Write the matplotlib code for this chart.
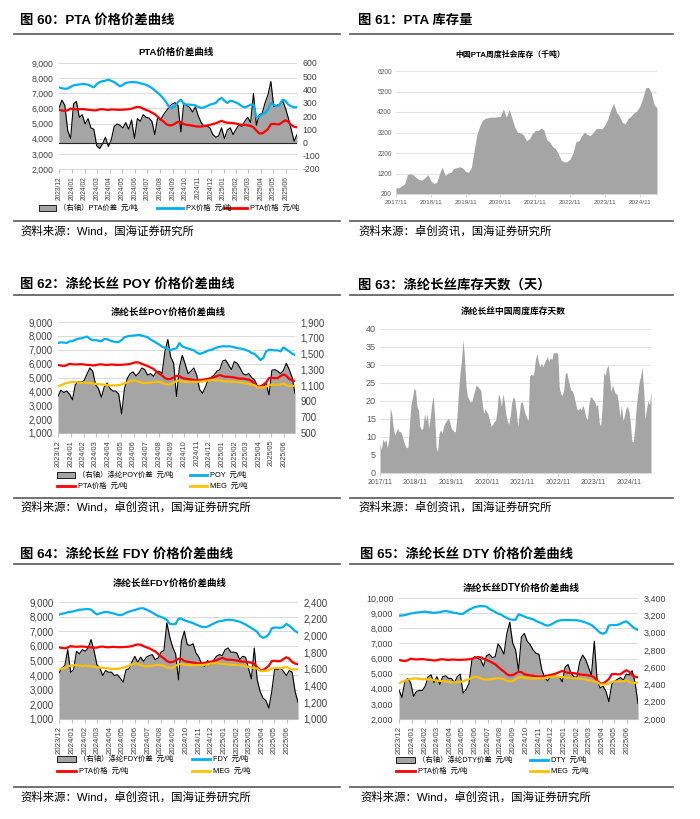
import numpy as np
import pandas as pd
import matplotlib
matplotlib.use("Agg")
import matplotlib.pyplot as plt
from matplotlib.lines import Line2D
from matplotlib.patches import Rectangle
from matplotlib.ticker import FuncFormatter

plt.rcParams["font.family"] = ["Liberation Sans", "Noto Sans CJK SC", "DejaVu Sans"]

# ---------- data: weekly prices, 2023/12 .. 2025/06 ----------
weeks = pd.date_range("2023-12-01", periods=83, freq="7D")
month_ticks = pd.date_range("2023-12-01", "2025-06-01", freq="MS")

px_price = [7390, 7330, 7300, 7310, 7420, 7520, 7560, 7580, 7610, 7600,
            7570, 7480, 7390, 7600, 7740, 7800, 7830, 7900, 7820, 7740,
            7600, 7460, 7560, 7680, 7720, 7740, 7730, 7720, 7660, 7610,
            7560, 7460, 7350, 7190, 7030, 6860, 6640, 6400, 6070, 6030,
            6140, 6420, 6580, 6290, 6260, 6250, 6230, 6200, 6100, 6030,
            6070, 6150, 6250, 6300, 6360, 6580, 6690, 6510, 6360, 6510,
            6470, 6390, 6290, 6140, 6070, 6140, 6250, 6250, 5410, 5450,
            5630, 5700, 5920, 6360, 6250, 6140, 6250, 6580, 6510, 6250,
            6140, 6070, 6090]
pta_spread = [260, 320, 280, 90, 30, 290, 310, 190, 210, 140,
              180, 110, 100, -25, -45, -10, 40, -30, 20, 120,
              140, 130, 110, 150, 100, 170, 30, 180, 160, 210,
              190, 185, 160, 60, 190, 170, 210, 240, 270, 290,
              300, 280, 80, 300, 280, 265, 230, 270, 200, 150,
              120, 125, 110, 60, 40, 50, 110, 30, 95, 110,
              60, 100, 135, 120, 160, 190, 150, 370, 130, 210,
              220, 300, 360, 460, 270, 280, 290, 320, 260, 185,
              100, 10, 60]
pta_price = [5900, 5860, 5830, 5880, 5990, 5950, 5940, 5950, 5960, 5940,
             5910, 5900, 5870, 5880, 5940, 5950, 5920, 5900, 5930, 5930,
             5910, 5910, 5920, 5930, 5950, 5980, 6050, 6100, 6080, 5980,
             5900, 5830, 5720, 5620, 5450, 5280, 5140, 4960, 4880, 4900,
             5000, 5120, 5100, 4960, 4920, 4890, 4860, 4820, 4800, 4800,
             4840, 4870, 4920, 4960, 5020, 5100, 5180, 5100, 5050, 5050,
             5030, 5000, 4950, 4920, 4920, 4880, 4850, 4750, 4540, 4350,
             4350, 4480, 4640, 4960, 4980, 4950, 4960, 5100, 5220, 5120,
             4900, 4790, 4750]
meg_price = [4370, 4440, 4520, 4610, 4640, 4680, 4680, 4650, 4620, 4640,
             4620, 4610, 4570, 4540, 4510, 4500, 4480, 4460, 4420, 4430,
             4430, 4460, 4500, 4570, 4640, 4730, 4800, 4770, 4690, 4620,
             4600, 4620, 4640, 4670, 4700, 4670, 4640, 4530, 4500, 4500,
             4640, 4740, 4780, 4710, 4690, 4670, 4680, 4690, 4690, 4690,
             4710, 4760, 4780, 4820, 4820, 4790, 4780, 4750, 4730, 4710,
             4700, 4690, 4670, 4650, 4610, 4560, 4540, 4480, 4450, 4280,
             4290, 4290, 4340, 4450, 4490, 4480, 4490, 4500, 4570, 4450,
             4390, 4390, 4410]
poy_price = [7490, 7530, 7520, 7490, 7600, 7620, 7720, 7800, 7820, 7880,
             7950, 7800, 7680, 7700, 7650, 7610, 7780, 7760, 7660, 7600,
             7560, 7560, 7700, 7900, 7960, 8000, 8020, 8040, 8080, 8020,
             7960, 7900, 7750, 7620, 7500, 7380, 7230, 7130, 7060, 6980,
             7050, 7100, 7480, 7240, 7150, 7090, 7020, 6960, 6800, 6700,
             6760, 6850, 6950, 6980, 7080, 7170, 7220, 7250, 7240, 7250,
             7230, 7180, 7120, 7090, 7060, 6980, 6900, 6770, 6700, 6500,
             6260, 6400, 6880, 7000, 6990, 6950, 6960, 6880, 7170, 7020,
             6880, 6720, 6620]
poy_spread = [962, 1040, 1010, 1030, 990, 920, 1110, 1150, 1140, 1160,
              1240, 1320, 1280, 1110, 1060, 950, 1080, 1130, 1060, 1030,
              1030, 990, 740, 1060, 1190, 1250, 1270, 1220, 1260, 1320,
              1300, 1230, 1250, 1215, 1270, 1280, 1250, 1530, 1680, 1460,
              1380, 960, 1330, 1480, 1370, 1250, 1280, 1320, 1230, 1050,
              1000, 1080, 1180, 1200, 1230, 1280, 1300, 1410, 1420, 1360,
              1300, 1400, 1380, 1320, 1250, 1230, 1250, 1200, 1170, 1090,
              1080, 1080, 1130, 980, 1290, 1300, 1280, 1250, 1290, 1380,
              1300, 1200, 1000]
fdy_price = [8130, 8200, 8230, 8300, 8320, 8360, 8420, 8470, 8480, 8510,
             8520, 8480, 8300, 8150, 8220, 8280, 8320, 8300, 8240, 8200,
             8140, 8100, 8150, 8260, 8340, 8400, 8450, 8520, 8570, 8570,
             8480, 8380, 8280, 8150, 8050, 7980, 7900, 7780, 7500, 7480,
             7490, 7850, 7860, 7750, 7680, 7620, 7560, 7460, 7380, 7300,
             7280, 7320, 7420, 7520, 7620, 7690, 7710, 7760, 7790, 7780,
             7750, 7700, 7650, 7560, 7460, 7340, 7220, 7100, 6950, 6680,
             6550, 6620, 6800, 7200, 7250, 7250, 7230, 7300, 7500, 7380,
             7200, 7020, 6900]
fdy_spread = [1550, 1610, 1640, 1830, 1560, 1590, 1810, 1780, 1830, 1810,
              1850, 1950, 1820, 1650, 1610, 1520, 1580, 1560, 1560, 1520,
              1530, 1490, 1440, 1590, 1600, 1680, 1750, 1680, 1740, 1690,
              1740, 1760, 1770, 1710, 1730, 1800, 1820, 2150, 1980, 1860,
              1780, 1470, 1930, 2050, 1890, 1880, 1900, 1790, 1740, 1650,
              1630, 1700, 1650, 1700, 1750, 1770, 1760, 1830, 1850, 1800,
              1800, 1790, 1710, 1750, 1740, 1610, 1480, 1850, 1470, 1330,
              1250, 1220, 1130, 1330, 1600, 1590, 1610, 1570, 1520, 1580,
              1560, 1330, 1200]
dty_price = [8830, 8840, 8870, 8920, 8980, 9000, 9040, 9060, 9080, 9100,
             9060, 9040, 9020, 9040, 9060, 9110, 9140, 9100, 9060, 9020,
             8990, 8940, 8960, 9100, 9220, 9310, 9400, 9440, 9460, 9460,
             9430, 9280, 9180, 9080, 8960, 8900, 8780, 8680, 8590, 8560,
             8560, 8920, 8860, 8780, 8700, 8640, 8600, 8480, 8400, 8320,
             8220, 8170, 8230, 8340, 8450, 8510, 8540, 8540, 8540, 8540,
             8530, 8530, 8490, 8440, 8380, 8300, 8220, 8060, 7880, 7700,
             7640, 7730, 8180, 8210, 8210, 8220, 8300, 8400, 8460, 8300,
             8120, 7980, 7880]
dty_spread = [2335, 2250, 2430, 2470, 2420, 2260, 2320, 2330, 2330, 2380,
              2490, 2510, 2420, 2490, 2400, 2490, 2500, 2470, 2470, 2420,
              2490, 2520, 2300, 2340, 2410, 2680, 2720, 2700, 2690, 2610,
              2730, 2750, 2710, 2720, 2870, 2820, 2750, 2990, 3120, 2880,
              2800, 2560, 2950, 2990, 2900, 2860, 2800, 2760, 2750, 2570,
              2480, 2440, 2500, 2510, 2490, 2490, 2430, 2600, 2630, 2530,
              2490, 2480, 2660, 2740, 2690, 2600, 2500, 2900, 2440, 2360,
              2380, 2320, 2200, 2400, 2440, 2460, 2480, 2450, 2520, 2510,
              2560, 2420, 2180]

# ---------- data: inventories, 2017/11 .. 2025 ----------
year_ticks = pd.to_datetime([f"{y}-11-01" for y in range(2017, 2025)])
stock_dates = pd.date_range("2017-11-01", periods=91, freq="MS")
pta_stock = [510, 500, 606, 700, 1150, 1180, 1130, 1000, 900, 880,
             1000, 1140, 850, 720, 760, 1200, 1500, 1100, 1220, 1260,
             1450, 1480, 1530, 1470, 1300, 1260, 1500, 2400, 3150, 3560,
             3820, 3900, 3930, 3950, 3950, 3970, 3980, 4350, 3950, 4320,
             3900, 3450, 3200, 3180, 3080, 2800, 2900, 3150, 3290, 3300,
             3420, 3300, 2850, 2740, 2520, 2420, 2150, 1850, 1760, 1780,
             1900, 2200, 2740, 2800, 3030, 3220, 3100, 3050, 3200, 3380,
             3400, 3380, 3560, 3850, 4300, 4620, 4200, 4000, 3700, 3620,
             3890, 3990, 4150, 4250, 4480, 4850, 5380, 5400, 5150, 4560,
             4400]
days_dates = pd.date_range("2017-11-01", periods=184, freq="SMS")
yarn_days = [8.2, 6.5, 9.5, 8.5, 9.2, 7, 9.5, 18, 16.5, 13,
             10.5, 11.5, 12.5, 11.5, 11.5, 10.5, 9, 7.8, 7, 7.2,
             14, 19, 21, 23.5, 23, 18.5, 17.5, 13, 12, 12.5,
             16.5, 14.5, 16.5, 12.5, 15.5, 19, 21.5, 16, 7, 5.9,
             11, 12, 11, 13, 14, 14.5, 15.2, 14.5, 12.5, 12,
             11.5, 11.5, 16, 22, 28, 31, 37, 33, 24.5, 21.5,
             20.5, 19.8, 19.8, 21.5, 23, 24.4, 24, 23.5, 23, 19.5,
             16.5, 17.8, 17, 16.3, 14.5, 13, 13.5, 14.3, 14.6, 17.5,
             22, 21, 18.5, 22, 19.8, 16.5, 14.5, 13.5, 16, 19.5,
             21.2, 20.5, 17, 12.9, 16.5, 19.5, 19.8, 18, 16.5, 15.5,
             14.5, 27, 27.5, 27, 28, 31.4, 33.2, 31, 29.5, 30.5,
             29.5, 30.5, 31.5, 32.3, 31, 32, 31.5, 33.5, 33.3, 33.5,
             33.2, 24, 22, 21.5, 23, 27.5, 28, 26, 24.5, 23,
             22.8, 21.5, 19.5, 17.8, 17.5, 18.1, 17.5, 18.9, 17.5, 15.5,
             14.8, 19, 21.2, 21, 20.3, 19.8, 18.5, 19, 14, 13,
             19, 28, 27, 29, 30, 26.5, 22.5, 24.5, 23, 22,
             22, 19.5, 15.5, 19, 14.5, 16, 18, 18.5, 17, 14,
             8.7, 8.7, 13, 18.5, 22.5, 25.5, 27, 29.5, 23, 15,
             18, 20, 19, 23]

BLUE, RED, GOLD, AREA = "#00b0f0", "#ff0000", "#ffc000", "#a5a5a5"
TXT = "#404040"

# ---------- figure, pixel helpers ----------
W, H = 700, 819
fig = plt.figure(figsize=(7, 8.19), dpi=100)


def box(x0, y0, x1, y1):
    return [x0 / W, 1 - y1 / H, (x1 - x0) / W, (y1 - y0) / H]


def ftext(x, y, s, **kw):
    fig.text(x / W, 1 - y / H, s, **kw)


def rule(x0, x1, y):
    fig.add_artist(Line2D([x0 / W, x1 / W], [1 - y / H] * 2, color="#595959", lw=1.2))


money = FuncFormatter(lambda v, pos: f"{v:,.0f}")


def price_panel(rect, llim, lstep, rlim, rstep, spread, lines, fs, xfs, base=None):
    g = fig.add_axes(rect)              # grid + left scale
    ar = fig.add_axes(rect, sharex=g)   # spread area, right scale
    al = fig.add_axes(rect, sharex=g)   # price lines
    g.set_zorder(1)
    ar.set_zorder(2)
    al.set_zorder(3)
    for a in (ar, al):
        a.patch.set_visible(False)
    for a in (g, ar, al):
        for s in a.spines.values():
            s.set_visible(False)

    g.set_ylim(*llim)
    g.set_yticks(np.arange(llim[0], llim[1] + 1, lstep))
    g.yaxis.set_major_formatter(money)
    g.grid(axis="y", color="#d9d9d9", lw=0.7)
    g.spines["bottom"].set_visible(True)
    g.spines["bottom"].set_color("#d9d9d9")
    g.set_xlim(weeks[0], weeks[-1])
    g.set_xticks(month_ticks, [d.strftime("%Y/%m") for d in month_ticks])
    g.tick_params(axis="y", length=0, pad=4, labelsize=fs, labelcolor=TXT)
    g.tick_params(axis="x", length=3, color="#bfbfbf", pad=2, labelsize=xfs,
                  labelrotation=90, labelcolor=TXT)

    ar.set_ylim(*rlim)
    ar.set_yticks(np.arange(rlim[0], rlim[1] + 1, rstep))
    ar.yaxis.set_major_formatter(money)
    ar.yaxis.tick_right()
    ar.tick_params(axis="y", length=0, pad=4, labelsize=fs, labelcolor=TXT)
    ar.tick_params(axis="x", length=0, labelbottom=False)
    b = rlim[0] if base is None else base
    ar.fill_between(weeks, b, spread, color=AREA, lw=0)
    ar.plot(weeks, spread, color="black", lw=0.8)
    if base is not None:
        ar.axhline(base, color="#262626", lw=0.8)

    al.set_ylim(*llim)
    al.set_yticks([])
    al.tick_params(axis="x", length=0, labelbottom=False)
    for vals, col in lines:
        al.plot(weeks, vals, color=col, lw=1.6)


def stock_panel(rect, dates, vals, ylim, ystep, yfs, xfs):
    ax = fig.add_axes(rect)
    ax.set_axisbelow(True)
    ax.fill_between(dates, ylim[0], vals, color=AREA, lw=0)
    ax.set_xlim(dates[0], dates[-1])
    ax.set_ylim(*ylim)
    ax.set_yticks(np.arange(ylim[0], ylim[1] + 1, ystep))
    ax.grid(axis="y", color="#e3e3e3", lw=0.8)
    for s in ("top", "right", "left"):
        ax.spines[s].set_visible(False)
    ax.spines["bottom"].set_color("#d9d9d9")
    ax.set_xticks(year_ticks, [d.strftime("%Y/%m") for d in year_ticks])
    ax.tick_params(axis="y", length=0, pad=3, labelsize=yfs, labelcolor="#595959")
    ax.tick_params(axis="x", length=2, color="#d9d9d9", pad=2, labelsize=xfs,
                   labelcolor="#595959")


def leg_patch(x0, x1, y, label, fs=5.3):
    fig.add_artist(Rectangle((x0 / W, 1 - (y + 3) / H), (x1 - x0) / W, 6 / H,
                             facecolor=AREA, edgecolor="black", lw=0.6,
                             transform=fig.transFigure))
    ftext(x1 + 3, y, label, fontsize=fs, va="center")


def leg_line(x0, x1, y, color, label, fs=5.3):
    fig.add_artist(Line2D([x0 / W, x1 / W], [1 - y / H] * 2, color=color, lw=2))
    ftext(x1 + 3, y, label, fontsize=fs, va="center")


# ---------- headers, rules, sources ----------
heads = [("图 60：PTA 价格价差曲线", 20, 21), ("图 61：PTA 库存量", 358, 21),
         ("图 62：涤纶长丝 POY 价格价差曲线", 20, 285), ("图 63：涤纶长丝库存天数（天）", 358, 285),
         ("图 64：涤纶长丝 FDY 价格价差曲线", 20, 555), ("图 65：涤纶长丝 DTY 价格价差曲线", 360, 555)]
for s, x, y in heads:
    ftext(x, y, s, fontsize=9.6, fontweight="bold", va="center")

for top, bot in ((34, 221), (295, 498), (564, 787)):
    for x0, x1 in ((14, 340), (350, 673)):
        rule(x0, x1, top)
        rule(x0, x1, bot)

src_w = "资料来源：Wind，卓创资讯，国海证券研究所"
src_z = "资料来源：卓创资讯，国海证券研究所"
for s, x, y in [("资料来源：Wind，国海证券研究所", 20, 231), (src_z, 358, 231),
                (src_w, 20, 507), (src_z, 358, 507), (src_w, 20, 797), (src_w, 360, 797)]:
    ftext(x, y, s, fontsize=8.2, va="center")

# ---------- 图60 ----------
price_panel(box(59, 63, 297, 169), (2000, 9000), 1000, (-200, 600), 100, pta_spread,
            [(px_price, BLUE), (pta_price, RED)], 6.3, 4.8, base=0)
ftext(176, 52, "PTA价格价差曲线", fontsize=6.8, fontweight="bold", ha="center", va="center")
leg_patch(39, 56, 208, "（右轴）PTA价差  元/吨")
leg_line(157, 183, 208, BLUE, "PX价格  元/吨")
leg_line(224, 247, 208, RED, "PTA价格  元/吨")

# ---------- 图61 ----------
stock_panel(box(396, 71, 657, 194), stock_dates, pta_stock, (200, 6200), 1000, 4.8, 4.6)
ftext(510, 55, "中国PTA周度社会库存（千吨）", fontsize=5.7, fontweight="bold", ha="center", va="center")

# ---------- 图62 ----------
price_panel(box(58, 322, 295, 433), (1000, 9000), 1000, (500, 1900), 200, poy_spread,
            [(poy_price, BLUE), (pta_price, RED), (meg_price, GOLD)], 6.9, 5.3)
ftext(168, 312, "涤纶长丝POY价格价差曲线", fontsize=6.8, fontweight="bold", ha="center", va="center")
leg_patch(57, 75, 475, "（右轴）涤纶POY价差  元/吨")
leg_line(190, 207, 475, BLUE, "POY  元/吨")
leg_line(57, 75, 486, RED, "PTA价格  元/吨")
leg_line(190, 207, 486, GOLD, "MEG  元/吨")

# ---------- 图63 ----------
stock_panel(box(380, 329, 651, 473), days_dates, yarn_days, (0, 40), 5, 6.5, 5)
ftext(513, 312, "涤纶长丝中国周度库存天数", fontsize=6.3, fontweight="bold", ha="center", va="center")

# ---------- 图64 ----------
price_panel(box(59, 602, 298, 719), (1000, 9000), 1000, (1000, 2400), 200, fdy_spread,
            [(fdy_price, BLUE), (pta_price, RED), (meg_price, GOLD)], 7, 5.6)
ftext(170, 583, "涤纶长丝FDY价格价差曲线", fontsize=6.8, fontweight="bold", ha="center", va="center")
leg_patch(57, 76, 759, "（右轴）涤纶FDY价差  元/吨")
leg_line(192, 210, 759, BLUE, "FDY  元/吨")
leg_line(57, 76, 771, RED, "PTA价格  元/吨")
leg_line(192, 210, 771, GOLD, "MEG  元/吨")

# ---------- 图65 ----------
price_panel(box(399, 598, 638, 719), (2000, 10000), 1000, (2000, 3400), 200, dty_spread,
            [(dty_price, BLUE), (pta_price, RED), (meg_price, GOLD)], 6.4, 5.6)
ftext(521, 588, "涤纶长丝DTY价格价差曲线", fontsize=7, fontweight="bold", ha="center", va="center")
leg_patch(396, 415, 760, "（右轴）涤纶DTY价差  元/吨")
leg_line(530, 548, 760, BLUE, "DTY  元/吨")
leg_line(396, 415, 771, RED, "PTA价格  元/吨")
leg_line(530, 548, 771, GOLD, "MEG  元/吨")

fig.savefig("out.png", dpi=100)
